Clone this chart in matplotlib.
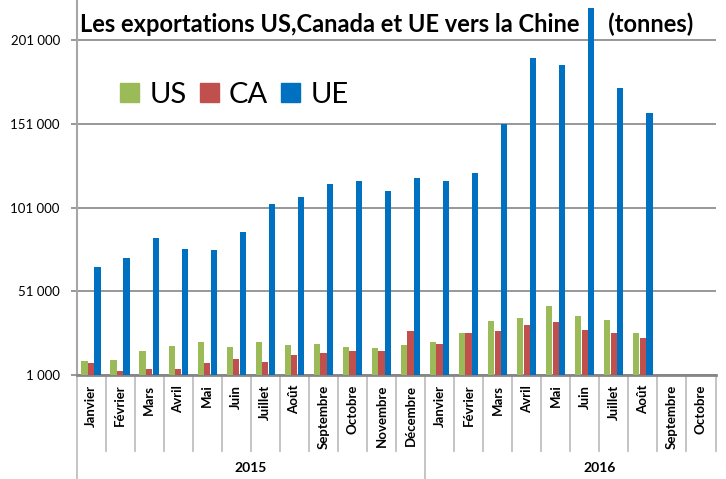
import numpy as np
import matplotlib
matplotlib.use("Agg")
import matplotlib.pyplot as plt
import matplotlib.transforms as mtransforms
from matplotlib.patches import Patch
from matplotlib.ticker import FuncFormatter

plt.rcParams['font.family'] = ['Lato', 'DejaVu Sans']

# données (tonnes)
months = ["Janvier", "Février", "Mars", "Avril", "Mai", "Juin", "Juillet", "Août",
          "Septembre", "Octobre", "Novembre", "Décembre",
          "Janvier", "Février", "Mars", "Avril", "Mai", "Juin", "Juillet", "Août",
          "Septembre", "Octobre"]
years = ["2015", "2016"]
us = [9400, 10000, 15200, 18300, 20900, 17700, 20900, 18900, 19500, 17700, 16900, 18900,
      20900, 26100, 33300, 35100, 42200, 36400, 33900, 26100, np.nan, np.nan]
ca = [8200, 3600, 4800, 4800, 8200, 10600, 8800, 12800, 14000, 15200, 15200, 27300,
      19500, 26100, 27300, 30700, 32500, 27900, 26100, 22900, np.nan, np.nan]
ue = [65300, 71100, 82700, 76100, 75700, 86600, 103200, 107100, 114900, 116700, 111100, 118700,
      116900, 121500, 150900, 190200, 186400, 220100, 172300, 157300, np.nan, np.nan]
yticks = [1000, 51000, 101000, 151000, 201000]

series = [("US", us, "#9BBB59"), ("CA", ca, "#C0504D"), ("UE", ue, "#0070C0")]

W, H = 726, 479
fig = plt.figure(figsize=(W / 100, H / 100), dpi=100)
ax = fig.add_axes([76.5 / W, 104 / H, 639 / W, 375 / H])

x = np.arange(len(months))
width = 0.215
offsets = [-0.225, 0.0, 0.225]
for (name, vals, col), off in zip(series, offsets):
    ax.bar(x + off, vals, width, color=col, label=name, zorder=3)

ax.set_xlim(-0.5, len(months) - 0.5)
ax.set_ylim(1000, 225000)
ax.set_yticks(yticks)
ax.yaxis.set_major_formatter(FuncFormatter(lambda v, p: f"{int(v):,}".replace(",", " ")))
ax.yaxis.grid(True, color="#868686", lw=1.2)
ax.set_axisbelow(True)
ax.tick_params(axis="y", length=4, width=1.2, color="#868686", pad=8, labelsize=9.5)

ax.set_xticks(x)
ax.set_xticklabels(months, rotation=90, va="top", ha="center", fontweight="bold", fontsize=9.5)
ax.tick_params(axis="x", length=0, pad=7)

for s in ["top", "right"]:
    ax.spines[s].set_visible(False)
ax.spines["bottom"].set_color("#868686")
ax.spines["bottom"].set_linewidth(2)
ax.spines["left"].set_color("#A6A6A6")
ax.spines["left"].set_linewidth(1.5)

# cadre des libellés de catégories
trans = mtransforms.blended_transform_factory(ax.transData, fig.transFigure)
y_axis = 104 / H
for b in np.arange(len(months) + 1) - 0.5:
    if b in (-0.5, 11.5):
        y_end = 0.0
    else:
        y_end = 28 / H
    ax.plot([b, b], [y_axis, y_end], color="#BFBFBF", lw=1.3, transform=trans, clip_on=False)

for k, yr in enumerate(years):
    ax.text(12 * k + 5.5, 1 - 468 / H, yr, transform=trans, ha="center", va="center",
            fontweight="bold", fontsize=10)

fig.text(80 / W, 1 - 32 / H, "Les exportations US,Canada et UE vers la Chine     (tonnes)",
         fontsize=17, fontweight="bold", ha="left", va="baseline")

handles = [Patch(color=c, label=n) for n, _, c in series]
ax.legend(handles=handles, ncol=3, loc="center left", bbox_to_anchor=(120 / W, 1 - 95 / H),
          bbox_transform=fig.transFigure, frameon=False, fontsize=21,
          handlelength=0.65, handleheight=0.65, handletextpad=0.35, columnspacing=0.45,
          borderpad=0, borderaxespad=0)

fig.savefig("out.png", dpi=100)
